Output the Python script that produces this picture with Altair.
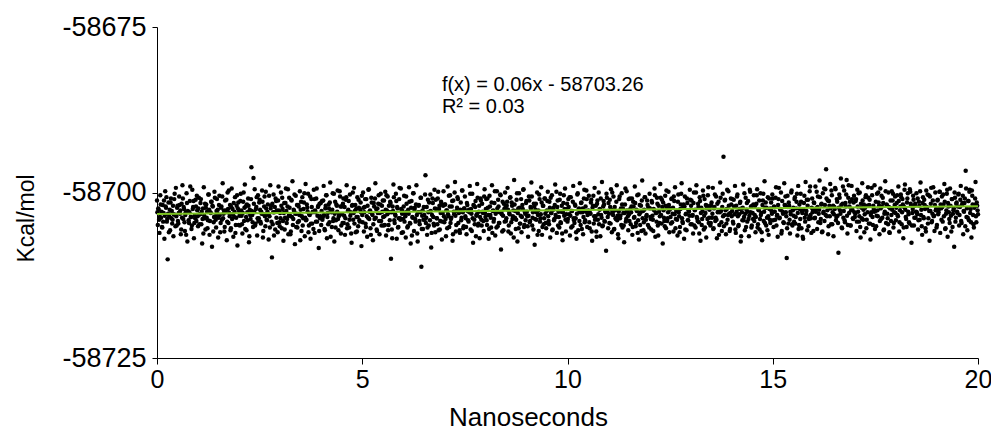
import altair as alt
import pandas as pd

# Energy time series (Kcal/mol), sampled every 0.01 ns from 0 to 20 ns.
# Series A: frames at 0.00, 0.02, 0.04, ... ns ; Series B: frames at 0.01, 0.03, ... ns
STEP_A = 0.02
START_A = 0.0
ENERGY_A = [
    -58701.2, -58704.9, -58702.6, -58706.1, -58700.4, -58703.8, -58705.2, -58701.9, -58703.1, -58707.0, -58699.8, -58702.3, -58704.4, -58710.1, -58701.5, -58703.6, -58705.7, -58700.9, -58702.8, -58704.1, -58706.6, -58701.0, -58703.4, -58699.3, -58705.0,
    -58702.0, -58704.7, -58700.6, -58703.2, -58706.3, -58701.7, -58698.9, -58704.0, -58702.5, -58705.8, -58703.0, -58700.1, -58707.4, -58702.9, -58704.6, -58701.3, -58703.7, -58705.5, -58699.6, -58702.2, -58706.9, -58703.5, -58701.1, -58704.3, -58702.7,
    -58705.1, -58700.8, -58703.3, -58701.6, -58704.8, -58707.7, -58702.4, -58699.2, -58703.9, -58705.6, -58701.8, -58702.9, -58704.2, -58700.3, -58706.4, -58703.0, -58701.4, -58708.2, -58702.1, -58704.5, -58699.9, -58703.6, -58705.3, -58701.0, -58702.6,
    -58703.8, -58700.5, -58706.0, -58702.3, -58704.1, -58698.6, -58703.2, -58705.9, -58701.2, -58702.7, -58707.2, -58700.0, -58704.6, -58703.1, -58701.9, -58705.4, -58699.4, -58702.5, -58706.7, -58703.7, -58700.7, -58704.9, -58702.0, -58708.0, -58701.5,
    -58702.8, -58705.0, -58700.2, -58703.5, -58706.2, -58701.4, -58704.3, -58698.8, -58702.1, -58705.7, -58703.0, -58700.9, -58707.5, -58702.6, -58704.0, -58696.2, -58703.4, -58705.2, -58701.7, -58699.5, -58704.7, -58702.2, -58706.5, -58700.4, -58703.9,
    -58701.1, -58704.4, -58702.9, -58699.7, -58706.8, -58703.3, -58700.6, -58705.1, -58702.4, -58704.2, -58701.8, -58707.1, -58703.6, -58698.9, -58702.0, -58709.8, -58704.8, -58700.3, -58703.0, -58705.6, -58701.3, -58702.7, -58706.0, -58699.1, -58704.5,
    -58703.1, -58700.0, -58705.4, -58702.5, -58707.3, -58701.6, -58703.8, -58699.4, -58704.6, -58702.1, -58706.3, -58700.8, -58703.5, -58705.9, -58701.2, -58698.3, -58704.0, -58702.8, -58707.8, -58700.5, -58703.2, -58705.3, -58701.9, -58704.3, -58699.8,
    -58702.6, -58705.8, -58700.7, -58703.9, -58701.5, -58706.6, -58698.7, -58704.1, -58702.3, -58700.2, -58705.0, -58703.4, -58707.0, -58701.0, -58704.7, -58702.9, -58699.6, -58706.1, -58703.0, -58700.9, -58704.4, -58702.2, -58708.4, -58701.7, -58703.6,
    -58704.9, -58701.3, -58703.7, -58699.0, -58705.5, -58702.4, -58700.4, -58706.9, -58703.1, -58701.8, -58704.5, -58698.5, -58702.7, -58705.2, -58700.1, -58703.9, -58707.4, -58701.4, -58704.2, -58702.0, -58699.7, -58705.7, -58703.3, -58700.6, -58706.2,
    -58702.1, -58704.6, -58700.9, -58703.5, -58706.4, -58701.1, -58698.9, -58704.8, -58702.6, -58705.3, -58700.3, -58703.0, -58707.6, -58701.9, -58704.1, -58699.3, -58702.8, -58706.0, -58703.7, -58700.7, -58705.1, -58702.3, -58704.4, -58701.5, -58708.1,
    -58703.4, -58700.0, -58705.9, -58702.2, -58704.7, -58701.0, -58706.7, -58703.8, -58699.5, -58702.9, -58705.4, -58700.8, -58703.2, -58707.2, -58701.6, -58704.0, -58698.6, -58702.5, -58705.8, -58703.1, -58700.4, -58706.3, -58701.8, -58704.3, -58702.0,
    -58701.2, -58705.0, -58703.6, -58699.9, -58706.5, -58702.7, -58700.6, -58704.9, -58703.0, -58701.4, -58710.0, -58705.6, -58702.1, -58698.8, -58704.2, -58703.3, -58700.2, -58707.0, -58702.4, -58705.2, -58701.0, -58703.9, -58699.4, -58706.1, -58702.8,
    -58704.0, -58700.5, -58703.2, -58706.8, -58701.7, -58705.3, -58702.6, -58699.2, -58704.6, -58707.7, -58701.3, -58703.7, -58700.1, -58705.8, -58702.3, -58704.4, -58698.9, -58706.2, -58703.0, -58701.9, -58704.8, -58700.8, -58711.2, -58703.5, -58705.5,
    -58702.2, -58704.1, -58697.4, -58703.8, -58706.4, -58701.1, -58705.0, -58702.9, -58700.3, -58708.3, -58703.4, -58701.6, -58704.7, -58699.6, -58706.0, -58702.5, -58703.9, -58700.9, -58705.7, -58702.0, -58704.3, -58701.4, -58707.1, -58703.1, -58699.8,
    -58704.5, -58701.8, -58706.6, -58702.7, -58699.1, -58703.6, -58705.2, -58700.4, -58704.0, -58702.1, -58707.3, -58701.2, -58703.3, -58698.4, -58705.9, -58702.8, -58700.7, -58704.6, -58703.0, -58706.1, -58701.5, -58703.8, -58699.7, -58705.4, -58702.4,
    -58700.6, -58703.9, -58706.3, -58701.9, -58704.2, -58702.6, -58699.0, -58705.6, -58703.2, -58700.2, -58707.6, -58702.0, -58704.8, -58701.3, -58703.5, -58698.7, -58705.0, -58702.9, -58706.9, -58700.9, -58704.1, -58701.7, -58703.1, -58705.8, -58699.5,
    -58703.7, -58701.0, -58704.9, -58702.3, -58707.0, -58700.5, -58703.4, -58705.3, -58698.9, -58702.8, -58704.4, -58701.6, -58706.5, -58703.0, -58699.8, -58705.1, -58702.1, -58704.6, -58700.3, -58708.6, -58703.3, -58701.4, -58705.7, -58702.5, -58700.0,
    -58704.3, -58702.0, -58699.3, -58705.9, -58703.1, -58700.8, -58706.2, -58701.5, -58704.0, -58702.7, -58698.1, -58703.8, -58705.5, -58701.1, -58707.4, -58702.4, -58700.1, -58704.7, -58703.5, -58706.0, -58701.9, -58699.6, -58705.2, -58702.9, -58704.2,
    -58701.3, -58703.6, -58706.7, -58700.6, -58704.5, -58702.2, -58698.5, -58705.0, -58703.0, -58701.7, -58707.9, -58702.6, -58704.1, -58700.0, -58703.4, -58705.8, -58701.0, -58703.9, -58699.2, -58706.4, -58702.0, -58704.8, -58700.9, -58703.2, -58705.4,
    -58702.7, -58699.9, -58704.3, -58701.4, -58706.8, -58703.1, -58700.4, -58705.6, -58702.3, -58704.0, -58698.8, -58703.7, -58706.1, -58701.2, -58702.9, -58705.3, -58700.2, -58704.6, -58702.0, -58707.2, -58701.6, -58703.5, -58699.4, -58705.9, -58702.5,
    -58704.4, -58701.0, -58703.3, -58706.5, -58700.7, -58702.8, -58705.1, -58699.0, -58704.2, -58701.8, -58703.9, -58707.0, -58700.3, -58705.7, -58702.4, -58698.6, -58704.9, -58701.5, -58703.0, -58706.3, -58700.9, -58704.5, -58702.1, -58699.7, -58705.2,
    -58702.9, -58700.5, -58705.4, -58703.2, -58701.1, -58707.3, -58702.0, -58704.7, -58699.3, -58703.6, -58705.9, -58701.7, -58704.1, -58700.0, -58702.6, -58706.6, -58703.4, -58698.4, -58705.0, -58701.3, -58704.3, -58702.8, -58708.8, -58700.8, -58703.7,
    -58701.6, -58704.6, -58702.2, -58699.5, -58706.0, -58703.0, -58700.6, -58705.5, -58702.7, -58704.0, -58698.9, -58703.5, -58706.9, -58701.0, -58703.9, -58702.4, -58700.1, -58705.3, -58703.1, -58707.5, -58701.8, -58704.4, -58699.8, -58702.9, -58705.7,
    -58703.3, -58700.9, -58704.8, -58702.1, -58706.4, -58701.4, -58703.8, -58699.1, -58705.1, -58702.6, -58700.4, -58704.2, -58707.1, -58701.9, -58703.0, -58705.8, -58698.2, -58702.8, -58704.5, -58700.7, -58706.2, -58703.6, -58701.2, -58704.9, -58702.3,
    -58700.2, -58703.7, -58705.6, -58701.5, -58704.1, -58702.5, -58699.4, -58706.7, -58703.1, -58700.8, -58705.0, -58702.0, -58704.6, -58698.7, -58703.4, -58701.1, -58707.7, -58702.7, -58704.3, -58700.5, -58705.4, -58702.2, -58703.9, -58699.9, -58706.0,
    -58702.4, -58704.7, -58700.9, -58703.2, -58705.9, -58701.3, -58699.2, -58704.0, -58702.8, -58706.5, -58700.3, -58703.6, -58705.2, -58701.8, -58698.6, -58704.4, -58702.1, -58707.0, -58700.6, -58703.3, -58705.7, -58701.6, -58704.2, -58702.9, -58699.6,
    -58704.8, -58701.2, -58703.5, -58706.2, -58700.0, -58702.7, -58705.3, -58698.9, -58703.9, -58701.7, -58704.5, -58700.7, -58707.3, -58702.3, -58704.0, -58699.7, -58705.6, -58701.0, -58703.1, -58706.8, -58702.0, -58700.4, -58704.6, -58702.6, -58705.0,
    -58701.9, -58703.8, -58699.3, -58705.4, -58702.2, -58704.3, -58700.6, -58706.9, -58703.0, -58701.4, -58704.9, -58698.5, -58702.8, -58705.8, -58700.2, -58694.6, -58703.4, -58701.1, -58706.3, -58702.5, -58704.1, -58699.8, -58703.2, -58705.5, -58700.9,
    -58703.6, -58701.0, -58704.7, -58702.1, -58699.0, -58706.1, -58702.9, -58700.3, -58705.1, -58703.3, -58701.6, -58707.4, -58702.4, -58704.2, -58698.8, -58703.7, -58705.7, -58700.8, -58702.6, -58704.4, -58701.3, -58706.6, -58699.6, -58703.0, -58705.3,
    -58702.0, -58704.0, -58700.4, -58703.4, -58706.0, -58701.7, -58699.5, -58704.8, -58702.7, -58705.6, -58700.1, -58703.1, -58707.2, -58701.2, -58704.3, -58698.3, -58702.3, -58705.0, -58703.8, -58700.7, -58706.4, -58702.5, -58704.6, -58701.5, -58703.2,
    -58700.9, -58705.2, -58702.2, -58704.1, -58699.2, -58703.5, -58706.7, -58701.0, -58703.9, -58702.6, -58700.0, -58705.8, -58702.9, -58704.5, -58698.6, -58701.9, -58703.0, -58709.9, -58700.5, -58704.7, -58702.0, -58706.2, -58703.3, -58699.7, -58705.0,
    -58702.3, -58704.4, -58700.7, -58703.7, -58701.4, -58706.5, -58699.0, -58704.9, -58702.5, -58700.2, -58705.4, -58703.1, -58707.0, -58701.6, -58703.8, -58698.4, -58702.8, -58705.7, -58701.1, -58704.0, -58699.8, -58703.4, -58706.1, -58700.9, -58702.6,
    -58701.5, -58703.9, -58699.1, -58702.4, -58705.5, -58700.6, -58703.2, -58698.2, -58704.6, -58701.8, -58706.0, -58700.1, -58702.9, -58704.3, -58699.5, -58696.5, -58703.6, -58701.2, -58705.1, -58702.0, -58698.7, -58704.8, -58700.4, -58703.0, -58706.6,
    -58702.2, -58699.3, -58704.2, -58701.0, -58703.5, -58709.1, -58700.3, -58702.7, -58697.9, -58705.3, -58701.7, -58703.8, -58699.7, -58704.5, -58702.1, -58698.1, -58706.2, -58700.8, -58703.1, -58701.4, -58705.0, -58699.0, -58702.6, -58704.0, -58700.5,
    -58703.7, -58701.3, -58705.8, -58699.6, -58702.9, -58704.4, -58700.0, -58706.8, -58702.3, -58698.6, -58704.1, -58701.8, -58703.3, -58700.7, -58705.4, -58702.0, -58699.2, -58704.7, -58701.1, -58707.1, -58703.0, -58700.4, -58704.9, -58702.5, -58698.9,
    -58702.8, -58705.1, -58700.2, -58703.6, -58701.5, -58706.3, -58699.4, -58704.0, -58702.1, -58700.8, -58705.7, -58703.2, -58698.3, -58704.6, -58701.9, -58703.9, -58700.0, -58706.0, -58702.4, -58704.3, -58699.8, -58701.2, -58705.3, -58703.0, -58700.6,
    -58704.2, -58701.6, -58703.4, -58699.1, -58705.9, -58702.7, -58700.3, -58704.8, -58701.0, -58706.9, -58702.2, -58698.8, -58703.7, -58705.2, -58700.9, -58702.9, -58704.5, -58699.5, -58701.7, -58707.6, -58703.1, -58700.5, -58705.0, -58702.0, -58703.8,
    -58700.1, -58703.3, -58705.6, -58701.4, -58704.1, -58698.5, -58702.6, -58706.4, -58700.7, -58703.9, -58701.9, -58705.4, -58699.7, -58702.3, -58704.7, -58700.4, -58707.3, -58702.8, -58699.3, -58704.3, -58701.2, -58703.6, -58705.8, -58700.0, -58702.5,
    -58704.9, -58701.1, -58703.0, -58699.9, -58706.1, -58702.4, -58700.6, -58704.4, -58701.8, -58698.7, -58705.5, -58703.2, -58700.2, -58706.7, -58702.1, -58704.0, -58699.4, -58703.5, -58701.0, -58705.2, -58702.7, -58708.2, -58700.8, -58703.8, -58701.5,
    -58703.1, -58700.3, -58705.0, -58702.2, -58699.0, -58704.6, -58701.6, -58706.3, -58702.9, -58700.9, -58696.7, -58703.7, -58705.7, -58701.3, -58704.2, -58699.6, -58702.5, -58706.8, -58700.5, -58703.4, -58705.3, -58701.9, -58698.4, -58704.5, -58702.0,
    -58703.3,
]
STEP_B = 0.02
START_B = 0.01
ENERGY_B = [
    -58703.0, -58702.4, -58704.1, -58703.7, -58701.8, -58702.9, -58705.3, -58704.4, -58701.2, -58703.5, -58702.1, -58700.7, -58704.0, -58703.2, -58706.0, -58702.6, -58701.5, -58703.9, -58704.7, -58702.0, -58703.3, -58700.2, -58705.1, -58703.6, -58702.3,
    -58704.3, -58703.1, -58701.9, -58702.7, -58705.6, -58703.8, -58700.9, -58702.2, -58704.5, -58703.4, -58706.4, -58701.6, -58702.8, -58704.2, -58703.0, -58699.1, -58703.7, -58705.0, -58702.5, -58701.3, -58704.6, -58703.9, -58702.1, -58700.5, -58703.6,
    -58702.4, -58704.8, -58703.3, -58701.0, -58702.9, -58704.0, -58706.2, -58703.5, -58701.7, -58702.3, -58703.8, -58705.4, -58700.3, -58702.6, -58704.3, -58703.1, -58701.4, -58702.0, -58705.9, -58703.7, -58700.8, -58704.1, -58702.8, -58703.2, -58706.8,
    -58701.9, -58703.4, -58704.6, -58702.1, -58700.6, -58703.9, -58702.7, -58705.2, -58703.0, -58701.1, -58704.4, -58702.5, -58699.7, -58703.6, -58705.7, -58702.2, -58704.0, -58703.3, -58701.6, -58702.9, -58706.1, -58703.8, -58700.4, -58702.4, -58704.9,
    -58703.5, -58701.3, -58702.7, -58704.8, -58703.1, -58700.0, -58702.3, -58705.5, -58703.7, -58701.8, -58704.2, -58702.0, -58706.6, -58703.4, -58701.0, -58702.8, -58704.5, -58697.8, -58703.0, -58705.0, -58702.5, -58700.7, -58703.9, -58704.3, -58701.5,
    -58702.6, -58704.7, -58703.2, -58701.4, -58705.8, -58702.1, -58703.6, -58699.9, -58704.1, -58702.9, -58703.3, -58700.5, -58705.3, -58702.4, -58704.4, -58701.7, -58703.0, -58706.5, -58702.2, -58700.9, -58703.8, -58704.6, -58701.2, -58702.7, -58705.1,
    -58703.9, -58702.0, -58700.8, -58704.3, -58703.1, -58705.6, -58701.6, -58702.8, -58704.0, -58699.5, -58703.5, -58702.3, -58706.3, -58701.1, -58703.7, -58704.9, -58702.6, -58700.3, -58703.2, -58705.2, -58701.9, -58704.5, -58702.1, -58703.4, -58707.2,
    -58701.4, -58703.6, -58705.0, -58702.5, -58700.1, -58703.8, -58704.2, -58701.8, -58702.9, -58706.0, -58703.3, -58700.6, -58704.7, -58702.2, -58703.0, -58705.5, -58701.0, -58702.7, -58704.4, -58699.4, -58703.5, -58702.0, -58705.8, -58703.9, -58701.6,
    -58702.8, -58704.1, -58701.2, -58703.4, -58705.7, -58702.0, -58700.4, -58703.7, -58704.8, -58702.4, -58701.5, -58706.7, -58703.0, -58702.6, -58704.3, -58700.2, -58703.2, -58705.3, -58701.8, -58702.9, -58704.0, -58703.6, -58699.8, -58702.1, -58705.0,
    -58703.3, -58701.7, -58704.6, -58702.2, -58703.9, -58700.7, -58705.4, -58702.8, -58701.3, -58704.1, -58703.5, -58706.2, -58702.0, -58700.0, -58703.1, -58704.7, -58701.9, -58702.5, -58705.9, -58703.7, -58701.1, -58704.2, -58702.6, -58703.0, -58700.5,
    -58704.5, -58702.3, -58703.0, -58701.0, -58705.2, -58703.6, -58702.0, -58699.6, -58704.0, -58702.7, -58706.4, -58701.5, -58703.4, -58704.8, -58702.1, -58700.9, -58703.8, -58705.6, -58702.4, -58701.7, -58704.3, -58703.1, -58700.2, -58705.0, -58702.9,
    -58703.7, -58701.2, -58704.9, -58702.6, -58700.4, -58703.3, -58705.7, -58702.0, -58704.2, -58701.6, -58703.0, -58706.9, -58702.8, -58700.7, -58704.6, -58703.5, -58701.3, -58702.2, -58705.3, -58703.9, -58699.3, -58704.1, -58702.5, -58703.2, -58706.0,
    -58702.1, -58704.4, -58703.6, -58700.6, -58702.9, -58705.1, -58703.2, -58701.4, -58704.7, -58702.3, -58706.5, -58703.8, -58700.1, -58702.6, -58704.0, -58701.8, -58703.4, -58707.4, -58702.0, -58704.3, -58703.0, -58700.8, -58705.5, -58702.7, -58704.1,
    -58703.4, -58700.3, -58704.6, -58702.2, -58705.3, -58703.0, -58701.5, -58704.2, -58702.8, -58706.1, -58700.9, -58703.7, -58705.0, -58702.4, -58701.1, -58703.9, -58704.8, -58699.9, -58702.5, -58705.6, -58703.1, -58701.7, -58704.4, -58702.0, -58703.6,
    -58701.8, -58704.0, -58702.7, -58705.4, -58703.3, -58700.5, -58702.1, -58704.6, -58703.8, -58701.3, -58706.3, -58702.9, -58700.0, -58703.5, -58704.9, -58702.3, -58701.0, -58703.1, -58705.7, -58702.6, -58704.2, -58699.7, -58703.0, -58705.1, -58702.4,
    -58703.6, -58705.2, -58701.6, -58702.8, -58704.4, -58703.0, -58700.2, -58702.5, -58705.8, -58703.9, -58701.9, -58704.1, -58702.2, -58706.6, -58703.3, -58700.8, -58704.7, -58702.0, -58703.7, -58701.2, -58705.0, -58702.9, -58704.3, -58700.6, -58703.1,
    -58702.5, -58704.2, -58700.9, -58703.4, -58705.5, -58702.1, -58703.8, -58701.5, -58706.1, -58702.7, -58704.0, -58699.8, -58703.2, -58705.3, -58702.4, -58701.1, -58704.6, -58703.0, -58700.4, -58702.9, -58705.9, -58703.5, -58701.7, -58704.4, -58702.2,
    -58703.9, -58701.4, -58702.6, -58705.0, -58703.3, -58700.7, -58704.5, -58702.0, -58703.6, -58706.8, -58701.8, -58702.8, -58704.1, -58700.1, -58703.1, -58705.4, -58702.3, -58704.7, -58701.0, -58703.7, -58702.5, -58699.5, -58704.9, -58703.2, -58701.6,
    -58702.9, -58705.1, -58703.5, -58701.2, -58704.3, -58702.4, -58700.6, -58703.8, -58705.6, -58702.1, -58704.0, -58701.7, -58703.0, -58706.4, -58702.7, -58700.3, -58704.4, -58703.3, -58701.5, -58705.2, -58702.0, -58703.9, -58700.9, -58704.6, -58702.8,
    -58701.3, -58703.6, -58704.8, -58702.3, -58700.8, -58703.1, -58705.7, -58702.6, -58704.2, -58701.9, -58703.4, -58699.9, -58702.2, -58705.0, -58703.7, -58701.1, -58704.5, -58702.9, -58706.2, -58703.0, -58700.4, -58702.5, -58704.1, -58703.3, -58701.7,
    -58704.0, -58702.2, -58700.7, -58703.5, -58705.3, -58702.8, -58701.4, -58703.9, -58704.6, -58702.0, -58706.0, -58703.2, -58700.1, -58702.6, -58704.3, -58703.0, -58701.6, -58705.5, -58702.4, -58703.7, -58699.6, -58704.2, -58702.9, -58701.0, -58703.4,
    -58702.7, -58704.5, -58703.1, -58701.5, -58705.9, -58702.3, -58700.5, -58703.6, -58704.1, -58702.0, -58706.7, -58701.2, -58703.3, -58704.8, -58702.5, -58700.9, -58703.8, -58705.1, -58702.1, -58701.8, -58704.4, -58703.0, -58700.2, -58702.8, -58705.4,
    -58703.2, -58701.1, -58704.7, -58702.6, -58700.0, -58703.4, -58705.6, -58702.2, -58703.9, -58701.4, -58704.2, -58706.3, -58702.9, -58700.6, -58703.5, -58704.9, -58701.8, -58702.4, -58705.0, -58703.1, -58699.4, -58704.0, -58702.7, -58703.6, -58701.0,
    -58704.3, -58702.5, -58703.0, -58700.9, -58705.2, -58702.1, -58703.7, -58701.6, -58704.6, -58702.8, -58706.1, -58700.3, -58703.3, -58704.9, -58702.0, -58701.2, -58703.9, -58705.7, -58702.6, -58700.7, -58704.1, -58703.4, -58701.9, -58702.3, -58705.3,
    -58702.4, -58704.0, -58701.3, -58703.5, -58705.8, -58702.7, -58700.4, -58703.1, -58704.4, -58701.7, -58706.5, -58702.9, -58703.6, -58700.8, -58704.7, -58702.2, -58701.5, -58703.8, -58705.1, -58702.0, -58699.7, -58704.3, -58703.0, -58701.9, -58702.6,
    -58703.7, -58701.0, -58704.5, -58702.3, -58700.6, -58703.3, -58705.4, -58702.8, -58704.1, -58701.4, -58703.0, -58706.0, -58702.5, -58700.2, -58703.9, -58704.6, -58701.8, -58702.1, -58705.6, -58703.2, -58700.9, -58704.2, -58702.7, -58703.5, -58701.1,
    -58702.0, -58704.8, -58703.4, -58701.6, -58705.0, -58702.6, -58700.0, -58703.7, -58704.3, -58702.2, -58706.2, -58701.3, -58703.1, -58704.9, -58702.8, -58700.5, -58703.5, -58705.3, -58701.9, -58702.4, -58704.0, -58699.2, -58703.8, -58702.1, -58704.6,
    -58701.5, -58703.2, -58705.5, -58702.4, -58700.3, -58703.8, -58704.1, -58701.7, -58702.9, -58706.4, -58703.0, -58700.8, -58704.5, -58702.2, -58703.6, -58705.1, -58701.2, -58702.7, -58704.7, -58699.6, -58703.4, -58702.0, -58705.8, -58703.1, -58701.8,
    -58702.8, -58704.4, -58701.1, -58703.3, -58705.6, -58702.0, -58700.6, -58703.6, -58704.9, -58702.5, -58701.4, -58706.6, -58703.0, -58702.3, -58704.2, -58700.1, -58703.2, -58705.2, -58701.6, -58702.9, -58704.0, -58703.5, -58699.9, -58702.1, -58705.0,
    -58703.1, -58701.8, -58704.3, -58702.0, -58703.7, -58700.4, -58705.3, -58702.6, -58701.2, -58704.0, -58703.4, -58706.0, -58701.9, -58700.2, -58702.9, -58704.6, -58701.5, -58702.3, -58705.7, -58703.6, -58700.9, -58704.1, -58702.4, -58702.8, -58700.3,
    -58704.2, -58702.1, -58702.9, -58700.8, -58705.0, -58703.4, -58701.9, -58699.3, -58703.8, -58702.5, -58706.2, -58701.3, -58703.2, -58704.6, -58701.9, -58700.6, -58703.6, -58705.4, -58702.2, -58701.5, -58704.1, -58702.9, -58700.0, -58704.8, -58702.7,
    -58703.5, -58701.0, -58704.7, -58702.4, -58700.2, -58703.1, -58705.5, -58701.8, -58704.0, -58701.4, -58702.8, -58706.7, -58702.6, -58700.5, -58704.4, -58703.3, -58701.1, -58702.0, -58705.1, -58703.7, -58699.1, -58703.9, -58702.3, -58703.0, -58705.8,
    -58701.6, -58703.8, -58702.9, -58699.9, -58702.2, -58704.5, -58702.6, -58700.7, -58704.0, -58701.7, -58705.9, -58703.1, -58699.4, -58701.9, -58703.4, -58700.9, -58702.7, -58706.3, -58701.3, -58703.6, -58702.4, -58699.7, -58704.8, -58702.0, -58703.3,
    -58702.5, -58699.5, -58703.7, -58701.4, -58704.6, -58702.3, -58700.8, -58703.2, -58701.9, -58705.4, -58699.1, -58702.8, -58704.2, -58701.6, -58700.3, -58703.5, -58704.9, -58698.9, -58702.1, -58705.0, -58702.7, -58701.0, -58703.9, -58701.5, -58703.0,
    -58703.2, -58701.0, -58704.4, -58702.1, -58700.1, -58703.6, -58705.2, -58701.7, -58703.9, -58701.2, -58702.6, -58706.0, -58702.3, -58700.4, -58704.1, -58703.0, -58700.8, -58701.9, -58704.7, -58703.4, -58699.3, -58703.7, -58702.0, -58702.9, -58705.5,
    -58701.4, -58703.5, -58702.7, -58700.0, -58702.0, -58704.3, -58702.4, -58700.5, -58703.8, -58701.6, -58705.6, -58702.9, -58699.8, -58701.8, -58703.2, -58704.8, -58702.2, -58706.1, -58701.2, -58703.4, -58702.6, -58700.2, -58704.6, -58701.9, -58703.1,
    -58702.3, -58700.4, -58703.6, -58701.3, -58704.5, -58702.1, -58700.7, -58703.0, -58701.8, -58705.3, -58699.6, -58702.6, -58704.0, -58701.5, -58700.1, -58703.3, -58704.7, -58699.9, -58702.0, -58705.0, -58702.5, -58701.1, -58703.8, -58701.7, -58702.9,
    -58703.0, -58700.9, -58704.2, -58702.0, -58699.8, -58703.4, -58705.1, -58701.6, -58703.7, -58701.1, -58702.5, -58705.9, -58702.2, -58700.3, -58703.9, -58702.8, -58700.6, -58701.7, -58704.5, -58703.2, -58699.2, -58703.5, -58701.9, -58702.7, -58705.3,
    -58701.2, -58703.3, -58702.5, -58699.9, -58701.8, -58704.1, -58702.2, -58700.3, -58703.6, -58701.4, -58705.4, -58702.7, -58699.6, -58701.6, -58703.0, -58704.6, -58702.0, -58705.9, -58701.0, -58703.2, -58702.4, -58700.0, -58704.4, -58701.7, -58702.9,
    -58702.1, -58700.2, -58703.4, -58701.1, -58704.3, -58701.9, -58700.5, -58702.8, -58701.6, -58705.1, -58699.4, -58702.4, -58703.8, -58701.3, -58699.9, -58703.1, -58704.5, -58699.7, -58701.8, -58704.8, -58702.3, -58700.9, -58703.6, -58701.5, -58702.7,
]

# Linear trend line as drawn (end points)
TREND_X = [0, 20]
TREND_Y = [-58703.26, -58702.06]

# Annotation (regression equation)
ANNOT_TEXT = ["f(x) = 0.06x - 58703.26", "R² = 0.03"]
ANNOT_X = [6.94, 6.94]
ANNOT_Y = [-58684.7, -58688.0]

X_TICKS = [0, 5, 10, 15, 20]
Y_TICKS = [-58725, -58700, -58675]

time_a = [round(START_A + i * STEP_A, 4) for i in range(len(ENERGY_A))]
time_b = [round(START_B + i * STEP_B, 4) for i in range(len(ENERGY_B))]
pts = pd.DataFrame({"t": time_a + time_b, "e": ENERGY_A + ENERGY_B})
trend = pd.DataFrame({"t": TREND_X, "e": TREND_Y})
annot = pd.DataFrame({"t": ANNOT_X, "e": ANNOT_Y, "label": ANNOT_TEXT})

xscale = alt.Scale(domain=[0, 20], nice=False, zero=False)
yscale = alt.Scale(domain=[-58725, -58675], nice=False, zero=False)

xaxis = alt.Axis(
    values=X_TICKS, title="Nanoseconds", grid=False,
    labelFont="Liberation Sans", labelFontSize=25, labelColor="#000000",
    labelPadding=3, tickSize=6, tickColor="#000000", domainColor="#000000",
    titleFont="Liberation Sans", titleFontSize=26, titleFontWeight="normal",
    titleColor="#000000", titlePadding=12, titleX=371, titleAlign="center",
    labelFlush=False,
)
yaxis = alt.Axis(
    values=Y_TICKS, title="Kcal/mol", grid=False,
    labelExpr="'' + datum.value",
    labelFont="Liberation Sans", labelFontSize=27, labelColor="#000000",
    labelPadding=6, tickSize=5, tickColor="#000000", domainColor="#000000",
    titleFont="Liberation Sans", titleFontSize=23, titleFontWeight="normal",
    titleColor="#000000", titleX=-124, titleY=191, titleAngle=270,
    titleAlign="center", titleBaseline="alphabetic", labelFlush=False,
)

points = alt.Chart(pts).mark_circle(size=20, color="#000000", opacity=1).encode(
    x=alt.X("t:Q", scale=xscale, axis=xaxis),
    y=alt.Y("e:Q", scale=yscale, axis=yaxis),
)

line = alt.Chart(trend).mark_line(color="#7cc320", strokeWidth=2).encode(
    x=alt.X("t:Q", scale=xscale),
    y=alt.Y("e:Q", scale=yscale),
)

text = alt.Chart(annot).mark_text(
    align="left", baseline="alphabetic", font="Liberation Sans", fontSize=20, color="#000000"
).encode(
    x=alt.X("t:Q", scale=xscale),
    y=alt.Y("e:Q", scale=yscale),
    text="label:N",
)

chart = alt.layer(points, line, text).properties(
    width=821, height=331,
    background="#ffffff",
    autosize=alt.AutoSizeParams(type="none"),
    padding={"left": 149, "top": 19, "right": 13, "bottom": 73},
).configure_view(stroke=None)

chart.save("out.html", embed_options={"renderer": "svg", "actions": False})
